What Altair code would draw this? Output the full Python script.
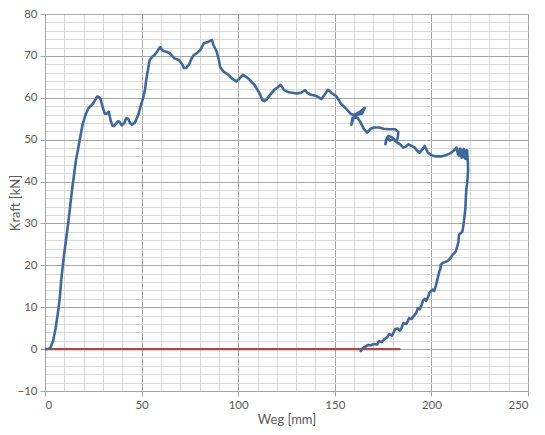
import altair as alt
import pandas as pd

# Load curve (Weg in mm, Kraft in kN)
weg = [0, 2, 3, 4.2, 5.5, 6.5, 7.6, 8.5, 10, 12, 14, 16, 17.4, 19.4, 21, 22.5, 24.5, 26, 27, 28, 28.8,
       30, 31, 32, 33, 34, 35, 36, 37.7, 38.5, 39.8, 41, 42, 43, 44, 45, 46.6, 48.3, 49.5, 50.8, 51.8,
       52.4, 53.4, 54.2, 55.5, 56.8, 58, 59.6, 61, 62.7, 64.4, 66, 67, 69.4, 71, 72, 73, 74.5, 76, 77,
       78.8, 80.5, 82.2, 84.7, 86.4, 87.2, 88.9, 90, 90.6, 92.3, 94.9, 97, 99.1, 100.5, 102.5, 105,
       106.5, 108.4, 110.9, 112.5, 113.5, 114.5, 116, 118.6, 120.5, 122, 123.6, 126.2, 128, 130.4,
       132.5, 134.7, 135.5, 137.2, 140.6, 143.1, 144.8, 146.5, 148.2, 150.8, 153.3, 155.8, 158.4,
       160, 161.5, 163.5, 165.5, 164, 162, 160, 159, 158.6, 159.2, 161.7, 163.5, 165, 166.8, 168.5,
       170.2, 173, 175.3, 178, 181.2, 182.9, 182.5, 181.2, 179.5, 177.8, 176.5, 176.2, 177, 178.5,
       180.4, 182, 183.8, 185.5, 187, 188, 189.7, 191.4, 192.5, 193.9, 195.5, 196.5, 198.2, 200,
       202.4, 205, 207.5, 210, 211.7, 212.9, 213.8, 214.3, 214.7, 215.1, 215.6, 216, 216.4, 216.8,
       217.3, 217.7, 218.2, 218.5, 218.8, 219, 218.8, 218.5, 218.1, 217.8, 217.6, 217.2, 216.8,
       216.3, 216, 215, 214.3, 214, 213.4, 212.6, 210.9, 209.5, 208.3, 206, 204.9, 204.6, 204.1,
       203.3, 202.5, 201.5, 200.5, 199, 198.3, 197.3, 196.5, 195.6, 194.8, 193.9, 193, 192.2, 191,
       189.7, 188.5, 187.1, 185.5, 184.5, 183.8, 182.5, 181.2, 180.3, 179.5, 178.3, 177, 175.7,
       174.4, 173, 171.9, 170.2, 168.5, 167.3, 166, 165.2, 164.3, 163.1]
kraft = [0, 0.1, 0.5, 2, 5, 8, 12, 17, 23, 30, 38, 45, 48.5, 53.5, 56, 57.5, 58.4, 59.5, 60.3, 60.2, 59.6,
         57.5, 56.2, 56.2, 56.7, 54.5, 53.3, 53.3, 54.4, 54.3, 53.4, 54, 55.1, 55, 54, 53.6, 54.1, 56, 58,
         60, 62, 64.3, 67, 69, 69.8, 70.3, 71, 72.1, 71.2, 71, 70.7, 69.9, 69.4, 69, 68, 67.1, 67.1,
         67.9, 69.5, 70.2, 70.7, 71.5, 73, 73.4, 73.8, 72.6, 71, 69, 67.4, 66.3, 65.5, 64.5, 63.9,
         64.5, 65.5, 64.7, 64, 63.1, 61.2, 59.5, 59.2, 59.5, 60.4, 61.9, 62.5, 63.1, 61.9, 61.3, 61.2,
         61, 61.2, 61.8, 61.3, 60.8, 60.4, 59.7, 60.8, 61.9, 61.2, 60.4, 58.5, 57.4, 56.1, 55.9, 56.3,
         56.8, 57.6, 56.2, 56, 55.5, 54.2, 53.6, 55.2, 55.3, 54, 52.6, 51.7, 52.6, 52.9, 52.9, 52.6,
         52.5, 52.5, 51.8, 50.2, 49.8, 50.6, 50.9, 49.9, 48.9, 50.5, 49.8, 50.1, 49.4, 48.9, 48.1,
         48.4, 48.9, 48.5, 48.1, 47.4, 46.9, 47.8, 48.5, 46.9, 46.3, 46, 46, 46.3, 46.8, 47.4, 48.1,
         46.5, 46.2, 47.8, 47.8, 45.7, 45.8, 47.5, 47.8, 45.6, 45.4, 47.5, 47.4, 45, 43, 41.4, 39.5,
         38.3, 36, 33.6, 32, 30.4, 28.8, 28, 27.6, 27.3, 25.7, 24.5, 23.3, 22.5, 21.5, 21, 20.6, 20.2,
         19, 18.6, 17, 15.5, 13.9, 14.2, 13.5, 12.5, 11.5, 12, 11.5, 10.3, 9.5, 9.8, 8.7, 8, 7.2, 7.4,
         6, 6.2, 5, 4.4, 4.9, 4.8, 3.8, 3.2, 3.6, 2.8, 2.4, 1.7, 1.9, 1.1, 1.2, 0.9, 1.0, 0.6, 0.5,
         0.1, -0.7]

# Zero reference line
ref_weg = [0, 184]
ref_kraft = [0, 0]

x_major = [0, 50, 100, 150, 200, 250]
x_minor = list(range(0, 251, 10))
y_major = list(range(-10, 81, 10))
y_minor = list(range(-10, 81, 2))

df = pd.DataFrame({"weg": weg, "kraft": kraft, "i": range(len(weg))})
ref = pd.DataFrame({"weg": ref_weg, "kraft": ref_kraft, "i": range(len(ref_weg))})

xscale = alt.Scale(domain=[0, 250], nice=False, zero=False)
yscale = alt.Scale(domain=[-10, 80], nice=False, zero=False)
FONT = "Lato"
LAB = "#595959"

W, H = 483, 377

minor = alt.Chart(ref).mark_point(opacity=0).encode(
    x=alt.X("weg:Q", scale=xscale, axis=alt.Axis(
        values=x_minor, grid=True, gridColor="#d9d9d9", gridWidth=1,
        labels=False, ticks=False, domain=False, title=None, orient="bottom")),
    y=alt.Y("kraft:Q", scale=yscale, axis=alt.Axis(
        values=y_minor, grid=True, gridColor="#d9d9d9", gridWidth=1,
        labels=False, ticks=False, domain=False, title=None, orient="left")),
)

major = alt.Chart(ref).mark_point(opacity=0).encode(
    x=alt.X("weg:Q", scale=xscale, axis=alt.Axis(
        values=x_major, grid=True, gridColor="#a6a6a6", gridWidth=1,
        domain=True, domainColor="#a6a6a6", ticks=True, tickColor="#a6a6a6", tickSize=5,
        labelFont=FONT, labelFontSize=11.5, labelColor=LAB, labelPadding=3,
        title="Weg [mm]", titleFont=FONT, titleFontSize=13, titleFontWeight="normal",
        titleColor=LAB, titleY=28, titleBaseline="middle", orient="bottom")),
    y=alt.Y("kraft:Q", scale=yscale, axis=alt.Axis(
        values=y_major, grid=True, gridColor="#a6a6a6", gridWidth=1,
        domain=True, domainColor="#a6a6a6", ticks=True, tickColor="#a6a6a6", tickSize=5,
        labelFont=FONT, labelFontSize=11.5, labelColor=LAB, labelPadding=3,
        title="Kraft [kN]", titleFont=FONT, titleFontSize=13, titleFontWeight="normal",
        titleColor=LAB, titleX=-30, titleY=H / 2, titleBaseline="middle", orient="left")),
)

red = alt.Chart(ref).mark_line(color="#b8433f", strokeWidth=2.2).encode(
    x=alt.X("weg:Q", scale=xscale, axis=None),
    y=alt.Y("kraft:Q", scale=yscale, axis=None),
    order="i:Q")

blue = alt.Chart(df).mark_line(color="#3c689d", strokeWidth=2.6, strokeJoin="round").encode(
    x=alt.X("weg:Q", scale=xscale, axis=None),
    y=alt.Y("kraft:Q", scale=yscale, axis=None),
    order="i:Q")

chart = alt.layer(minor, major, red, blue).resolve_axis(x="independent", y="independent").properties(
    width=W, height=H,
    autosize=alt.AutoSizeParams(type="none"),
    padding={"left": 37, "top": 6, "right": 9, "bottom": 36},
).configure_view(stroke=None).configure(background="white")

chart.save("out.html", embed_options={"renderer": "svg", "actions": False})
